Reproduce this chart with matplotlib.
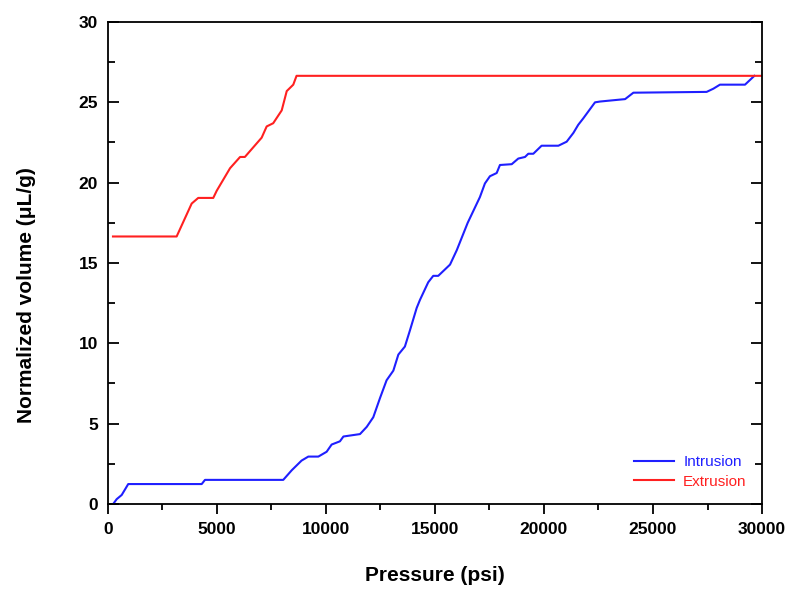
import matplotlib.pyplot as plt
import numpy as np

# intrusion curve (pressure psi, volume uL/g)
intr_p = [240, 400, 630, 930, 4300, 4450, 8040, 8430, 8880, 9190, 9650, 10030, 10260,
          10640, 10800, 11560, 11870, 12170, 12480, 12780, 13090, 13320, 13620, 13850,
          14160, 14310, 14690, 14920, 15150, 15690, 16000, 16500, 17060, 17290, 17520,
          17830, 17980, 18520, 18820, 19130, 19280, 19510, 19890, 20660, 21040, 21350,
          21570, 21800, 22340, 22570, 23330, 23720, 24100, 27460, 27770, 28070, 29220,
          29650]
intr_v = [0.0, 0.3, 0.56, 1.24, 1.24, 1.5, 1.5, 2.1, 2.7, 2.95, 2.95, 3.25, 3.7,
          3.9, 4.2, 4.35, 4.8, 5.4, 6.6, 7.7, 8.3, 9.3, 9.8, 10.8,
          12.2, 12.7, 13.8, 14.2, 14.2, 14.9, 15.8, 17.5, 19.1, 19.95, 20.4,
          20.6, 21.1, 21.15, 21.5, 21.6, 21.8, 21.8, 22.3, 22.3, 22.55, 23.1,
          23.6, 24.0, 25.0, 25.05, 25.15, 25.2, 25.6, 25.65, 25.85, 26.1, 26.1,
          26.65]

# extrusion curve
extr_p = [230, 3150, 3840, 4140, 4830, 4990, 5600, 6060, 6280, 7050, 7280, 7580,
          7970, 8200, 8500, 8650, 30000]
extr_v = [16.65, 16.65, 18.7, 19.05, 19.05, 19.5, 20.9, 21.6, 21.6, 22.8, 23.5, 23.7,
          24.5, 25.7, 26.1, 26.65, 26.65]

plt.rcParams['font.family'] = ['Liberation Sans', 'DejaVu Sans']

fig = plt.figure(figsize=(7.95, 5.90), dpi=100)
ax = fig.add_axes([0.1358, 0.1458, 0.8227, 0.8169])

ax.plot(intr_p, intr_v, color='#1f1fff', lw=1.5, label='Intrusion')
ax.plot(extr_p, extr_v, color='#ff2020', lw=1.5, label='Extrusion')

ax.set_xlim(0, 30000)
ax.set_ylim(0, 30)
ax.set_xticks(np.arange(0, 30001, 5000))
ax.set_xticks(np.arange(0, 30001, 2500), minor=True)
ax.set_yticks(np.arange(0, 31, 5))
ax.set_yticks(np.arange(0, 31, 2.5), minor=True)

ax.tick_params(axis='x', which='both', direction='out', top=False, width=1.3)
ax.tick_params(axis='x', which='major', length=7, pad=6)
ax.tick_params(axis='x', which='minor', length=4)
ax.tick_params(axis='y', which='both', direction='in', left=True, right=True, width=1.3)
ax.tick_params(axis='y', which='major', length=8, pad=7)
ax.tick_params(axis='y', which='minor', length=5)
ax.tick_params(labelsize=12.5)
for lbl in ax.get_xticklabels() + ax.get_yticklabels():
    lbl.set_fontweight('bold')
for s in ax.spines.values():
    s.set_linewidth(1.3)

ax.set_xlabel('Pressure (psi)', fontsize=15, fontweight='bold')
ax.xaxis.set_label_coords(0.5, -0.128)
ax.set_ylabel('Normalized volume (\u03bcL/g)', fontsize=15, fontweight='bold')
ax.yaxis.set_label_coords(-0.110, 0.434)

leg = ax.legend(loc='lower right', frameon=False, fontsize=11, handlelength=2.6,
                handletextpad=0.6, borderaxespad=0.6, labelspacing=0.35)
for txt, c in zip(leg.get_texts(), ['#1f1fff', '#ff2020']):
    txt.set_color(c)

fig.savefig('out.png', dpi=100)
